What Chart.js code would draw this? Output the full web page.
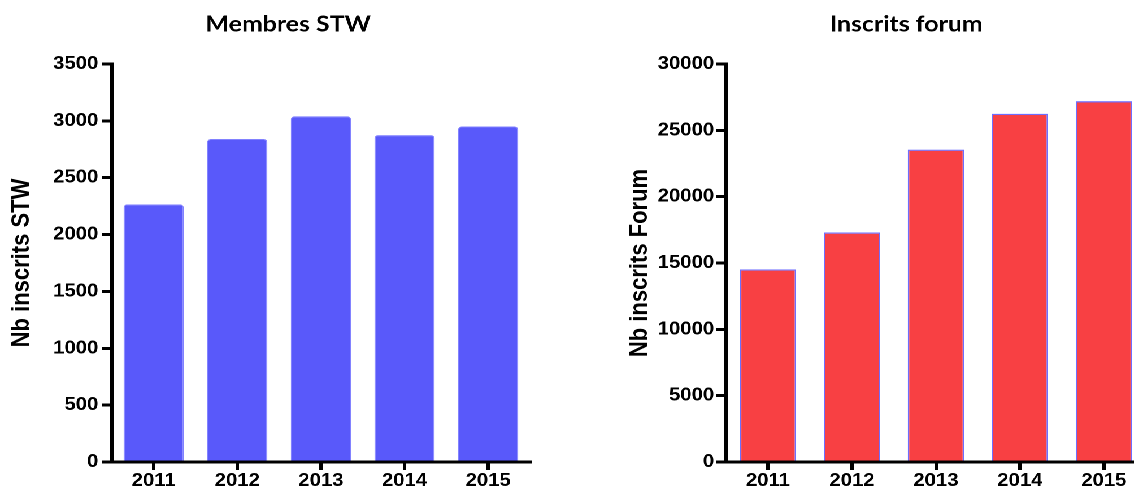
<!DOCTYPE html>
<html>
<head>
<meta charset="utf-8">
<script src="https://cdn.jsdelivr.net/npm/chart.js@4.4.1/dist/chart.umd.min.js"></script>
<style>
  html, body { margin:0; padding:0; background:#fff; overflow:hidden; width:1134px; height:490px; }
  #stage { position:absolute; left:0; top:0; width:1100px; height:490px; transform:scaleX(1.13); transform-origin:0 0; }
  .box { position:absolute; top:0; height:490px; }
</style>
</head>
<body>
<div id="stage">
  <div class="box" style="left:0px;"><canvas id="c1"></canvas></div>
  <div class="box" style="left:510px;"><canvas id="c2"></canvas></div>
</div>
<script>
// ---- data ----
const years = ['2011', '2012', '2013', '2014', '2015'];
const membresSTW = [2265, 2840, 3040, 2875, 2950];
const inscritsForum = [14520, 17300, 23550, 26250, 27200];
const stwAxis = { min: 0, max: 3500, step: 500 };
const forumAxis = { min: 0, max: 30000, step: 5000 };
const titles = ['Membres STW', 'Inscrits forum'];
const yTitles = ['Nb inscrits STW', 'Nb inscrits Forum'];

Chart.defaults.animation = false;

function makeChart(canvasId, w, opts) {
  const cv = document.getElementById(canvasId);
  cv.width = w; cv.height = 490;
  cv.style.width = w + 'px'; cv.style.height = '490px';
  const tickFont = { family: "'Liberation Sans', Arial, sans-serif", weight: 'bold', size: 18 };
  return new Chart(cv, {
    type: 'bar',
    data: {
      labels: years,
      datasets: [{
        data: opts.values,
        backgroundColor: opts.fill,
        borderColor: opts.border,
        borderWidth: opts.borderWidth,
        borderRadius: opts.radius,
        borderSkipped: 'bottom',
        barPercentage: opts.barPct,
        categoryPercentage: 1.0
      }]
    },
    options: {
      responsive: false,
      devicePixelRatio: 2,
      layout: { padding: 0 },
      plugins: {
        legend: { display: false },
        tooltip: { enabled: false },
        title: {
          display: true,
          text: opts.title,
          color: '#000',
          font: { family: "Lato, 'Open Sans', sans-serif", weight: 'bold', size: 22, lineHeight: 1.2 },
          padding: { top: 11, bottom: 26.6 }
        }
      },
      scales: {
        x: {
          grid: { display: true, drawOnChartArea: false, drawTicks: true, tickLength: 8, lineWidth: 3, color: '#000', offset: false },
          border: { display: true, color: '#000', width: 3 },
          ticks: { color: '#000', font: tickFont, padding: 0, maxRotation: 0 },
          afterFit(s) { s.height = 28; }
        },
        y: {
          min: opts.axis.min, max: opts.axis.max,
          grid: { display: true, drawOnChartArea: false, drawTicks: true, tickLength: 9, lineWidth: 3, color: '#000' },
          border: { display: true, color: '#000', width: 3 },
          ticks: { stepSize: opts.axis.step, color: '#000', font: tickFont, padding: opts.tickPad,
                   callback: (v) => String(v) },
          title: {
            display: true, text: opts.yTitle, color: '#000',
            font: { family: "'Liberation Sans', Arial, sans-serif", weight: 'bold', size: 22 },
            padding: { top: opts.yTitlePad, bottom: 0 }
          },
          afterFit(s) { s.width = opts.yWidth; }
        },
        yR: {
          type: 'linear', position: 'right', display: true,
          grid: { display: false }, border: { display: false }, ticks: { display: false },
          afterFit(s) { s.width = opts.rightWidth; }
        }
      }
    }
  });
}

makeChart('c1', 510, {
  values: membresSTW, axis: stwAxis, title: titles[0], yTitle: yTitles[0],
  fill: 'rgb(89,89,250)', border: 'rgb(130,130,255)', borderWidth: 1, radius: 3,
  barPct: 0.72, tickPad: 3, yTitlePad: 6.3, yWidth: 99, rightWidth: 41
});
makeChart('c2', 584, {
  values: inscritsForum, axis: forumAxis, title: titles[1], yTitle: yTitles[1],
  fill: 'rgb(248,64,67)', border: 'rgb(110,110,255)', borderWidth: 1.3, radius: 0,
  barPct: 0.67, tickPad: 1.5, yTitlePad: 43.4, yWidth: 132.5, rightWidth: 80
});
</script>
</body>
</html>
